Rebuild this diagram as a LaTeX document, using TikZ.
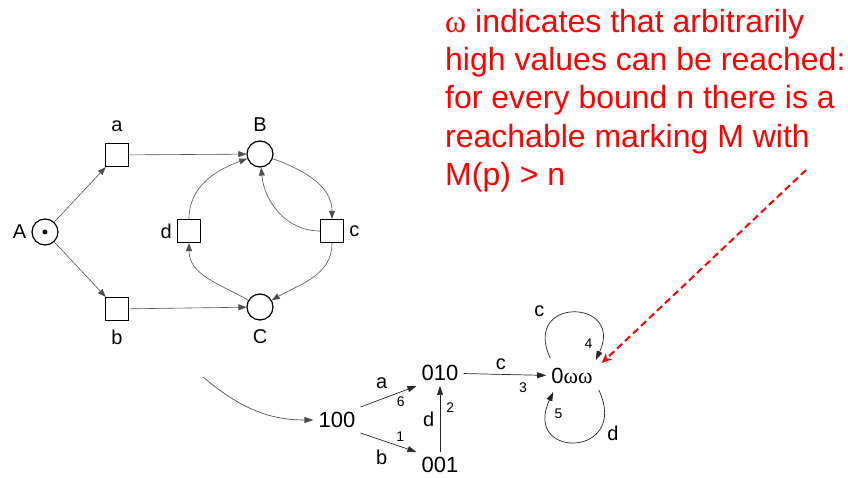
\documentclass[tikz,border=0pt]{standalone}
\usepackage{fontspec}
\setmainfont{Liberation Sans}
\newfontfamily\omfont{Liberation Serif}
\usepackage{tikz}
\usetikzlibrary{arrows.meta, positioning, calc}
\definecolor{PNRed}{RGB}{255, 0, 0}
\definecolor{PNArc}{RGB}{80, 80, 80}
\newcommand{\om}{{\omfont ω}}

\tikzset{
  place/.style={circle, draw, line width=1.2pt, minimum size=26pt, inner sep=0pt},
  trans/.style={rectangle, draw, line width=1.2pt, minimum size=23pt, inner sep=0pt},
  pnarc/.style={draw=PNArc, line width=0.6pt, -{Triangle[length=8pt,width=6pt]}},
  redge/.style={draw=black!85, line width=0.7pt, -{Triangle[length=9pt,width=6pt]}},
  marking/.style={font=\fontsize{22}{26}\selectfont, inner sep=5pt},
  lbl/.style={font=\fontsize{20}{24}\selectfont, inner sep=0pt},
  num/.style={font=\fontsize{14}{16}\selectfont, inner sep=0pt},
}

\begin{document}
\begin{tikzpicture}[x=1pt, y=1pt, label distance=9pt]
  \useasboundingbox (0,0) rectangle (848,477);

  \node[place, label={[lbl, label distance=5pt]left:A}] (A) at (45,245) {};
  \fill (A.center) circle[radius=2.5pt];
  \node[trans, label={[lbl, label distance=11pt]above:a}] (a) at (117,322) {};
  \node[trans, label={[lbl]below:b}] (b) at (117,168) {};
  \node[place, label={[lbl]above:B}] (B) at (260,323) {};
  \node[place, label={[lbl]below:C}] (C) at (260,170) {};
  \node[trans, label={[lbl, label distance=5pt]left:d}] (d) at (189,246) {};
  \node[trans, label={[lbl, label distance=5pt]right:c}] (c) at (332,246) {};

  \draw[pnarc] (A) -- (a);
  \draw[pnarc] (A) -- (b);
  \draw[pnarc] (a) -- (B);
  \draw[pnarc] (b) -- (C);
  \draw[pnarc] (B) to[out=-20, in=90] (c);
  \draw[pnarc] (c) to[out=-90, in=30] (C);
  \draw[pnarc] (C) to[out=150, in=-90] (d);
  \draw[pnarc] (d) to[out=90, in=200] (B);
  \draw[pnarc] (c) to[out=180, in=-85] (B);

  \node[marking] (n100) at (337,57) {100};
  \node[marking] (n010) at (440,104) {010};
  \node[marking] (n001) at (440,12) {001};
  \node[marking] (zww) at (572,101) {0\om\om};

  \coordinate (from net) at (203,100);
  \draw[redge, draw=PNArc] (from net) to[out=-40, in=180] (n100);

  \draw[redge] (n100.north east) -- (n010.south west)
    node[lbl, pos=0.38, above=10pt] {a}
    node[num, pos=0.72, below=4pt] {6};
  \draw[redge] (n100.south east) -- (n001.north west)
    node[lbl, pos=0.38, below=9.5pt] {b}
    node[num, pos=0.71, above=4.5pt] {1};
  \draw[redge] (n001) -- (n010)
    node[lbl, midway, left=5.5pt] {d}
    node[num, pos=0.67, right=6pt] {2};
  \draw[redge] (n010) -- (zww)
    node[lbl, pos=0.45, above=4.8pt] {c}
    node[num, pos=0.72, below=7pt] {3};
  \draw[redge] ([shift={(4pt,5pt)}]zww.north west)
    .. controls +(115:68pt) and +(65:68pt) .. ([shift={(-2pt,3pt)}]zww.north east)
    node[lbl, pos=0.3, above left=3pt and 8pt] {c}
    node[num, pos=0.9, left=8pt] {4};
  \draw[redge] ([shift={(1pt,-1pt)}]zww.south east)
    .. controls +(-65:75pt) and +(-115:75pt) .. ([shift={(7pt,-3pt)}]zww.south west)
    node[lbl, pos=0.3, right=10pt] {d}
    node[num, pos=0.88, right=7pt] {5};

  \node[text=PNRed, anchor=north west, inner sep=0pt, align=left,
        font=\fontsize{32}{38.3}\selectfont] (note) at (445,468)
    {\om{} indicates that arbitrarily\\high values can be reached:\\for every bound n there is a\\reachable marking M with\\M(p) > n};
  \coordinate (note end) at (806,307);
  \draw[PNRed, line width=2pt, dash pattern=on 7pt off 4pt,
        -{Stealth[length=10pt,width=9pt]}] (note end) -- ([xshift=4pt]zww.north east);
\end{tikzpicture}
\end{document}
